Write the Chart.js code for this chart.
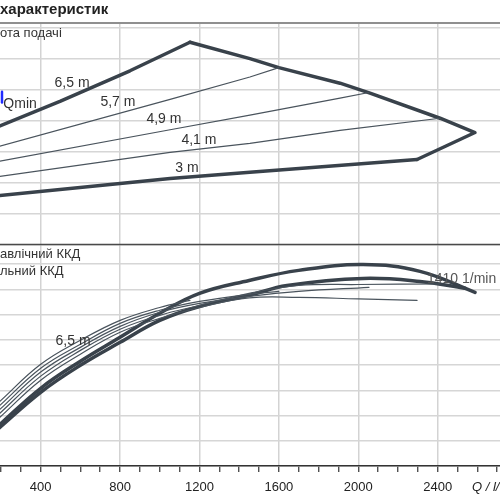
<!DOCTYPE html>
<html>
<head>
<meta charset="utf-8">
<script src="https://cdn.jsdelivr.net/npm/chart.js@4.4.1/dist/chart.umd.min.js"></script>
<style>
  html, body { margin: 0; padding: 0; background: #fff; }
  #wrap { width: 500px; height: 500px; }
</style>
</head>
<body>
<div id="wrap"><canvas id="pumpChart" width="500" height="500"></canvas></div>
<script>
// Q in l/s on x; upper panel head H in m, lower panel efficiency in %
const xTickStep = 100;
const xLabelStep = 400;

// upper panel - head lines
const head65Q = [190, 500, 850, 1152];
const head65H = [3.81, 4.62, 5.60, 6.52];
const head57Q = [190, 1052, 1454, 1600];
const head57H = [3.16, 4.68, 5.40, 5.70];
const head49Q = [190, 1052, 1454, 1908, 2054];
const head49H = [2.68, 3.70, 4.17, 4.72, 4.90];
const head41Q = [190, 1052, 1454, 1908, 2412];
const head41H = [2.19, 2.97, 3.26, 3.68, 4.07];
const head30Q = [190, 1052, 1454, 2296];
const head30H = [1.58, 2.13, 2.33, 2.74];
const limitQ = [1152, 1454, 1600, 1908, 2059, 2412, 2588, 2296];
const limitH = [6.52, 5.99, 5.70, 5.20, 4.88, 4.07, 3.61, 2.74];
const qminQ = [205, 205];
const qminH = [4.58, 4.92];

// lower panel - efficiency curves
const effHydrQ = [190, 400, 600, 800, 1000, 1200, 1450, 1700, 2024, 2311, 2588];
const effHydr = [16.2, 30.8, 41.5, 51.0, 60.5, 68.4, 73.5, 77.5, 79.8, 77.1, 68.8];
const effTotalQ = [190, 400, 600, 800, 1000, 1200, 1450, 1641, 2024, 2311, 2538];
const effTotal = [15.0, 29.2, 39.9, 49.0, 57.7, 63.2, 67.6, 71.5, 74.3, 73.1, 70.4];
const eff65Q = [190, 400, 600, 800, 1000, 1152];
const eff65 = [25.3, 40.3, 49.8, 57.7, 62.8, 65.6];
const eff57Q = [190, 400, 600, 800, 1000, 1200, 1450, 1600];
const eff57 = [23.7, 38.7, 48.2, 56.5, 61.7, 65.2, 68.0, 69.2];
const eff49Q = [190, 400, 600, 800, 1000, 1200, 1450, 1700, 2054];
const eff49 = [22.1, 37.2, 47.0, 55.3, 60.9, 64.4, 67.2, 69.2, 70.8];
const eff41Q = [190, 400, 600, 800, 1000, 1200, 1450, 1700, 2000, 2412];
const eff41 = [20.6, 35.6, 45.8, 54.2, 59.7, 63.6, 68.4, 71.5, 71.9, 72.1];
const eff30Q = [190, 400, 600, 800, 1000, 1200, 1450, 1700, 2000, 2296];
const eff30 = [19.0, 34.0, 44.3, 53.0, 58.5, 62.8, 66.6, 66.8, 66.2, 65.6];

const headLabels = ['6,5 m', '5,7 m', '4,9 m', '4,1 m', '3 m'];

const DARK = '#39424b';
const THIN = '#4a545d';
const FONT = '"Liberation Sans", Arial, sans-serif';

const pts = (qs, vs) => qs.map((q, i) => ({ x: q, y: vs[i] }));

function line(label, qs, vs, axis, width, color, tension) {
    return {
        label: label,
        data: pts(qs, vs),
        yAxisID: axis,
        borderColor: color,
        borderWidth: width,
        tension: tension,
        pointRadius: 0,
        fill: false
    };
}

// texts and frame lines
const decorPlugin = {
    id: 'decor',
    afterDraw(chart) {
        const { ctx, chartArea, scales } = chart;
        const x = scales.x, yH = scales.yH, yE = scales.yE;
        ctx.save();

        // frame lines
        ctx.strokeStyle = '#8f8f8f';
        ctx.lineWidth = 2;
        ctx.beginPath();
        ctx.moveTo(0, chartArea.top);
        ctx.lineTo(500, chartArea.top);
        ctx.stroke();
        ctx.strokeStyle = '#4a4a4a';
        ctx.lineWidth = 1.5;
        ctx.beginPath();
        ctx.moveTo(0, yE.top);
        ctx.lineTo(500, yE.top);
        ctx.stroke();

        ctx.textBaseline = 'middle';
        ctx.fillStyle = '#222';
        ctx.font = 'bold 15px ' + FONT;
        ctx.textAlign = 'left';
        ctx.fillText('характеристик', 0, 10);

        ctx.font = '13px ' + FONT;
        ctx.fillStyle = '#333';
        ctx.fillText('ота подачі', 0, chartArea.top + 10);
        ctx.fillText('авлічний ККД', 0, yE.top + 10);
        ctx.fillText('льний ККД', 0, yE.top + 27);

        // head line labels
        ctx.font = '14px ' + FONT;
        const spots = [[558, 5.19], [789, 4.58], [1021, 4.03], [1197, 3.35], [1137, 2.45]];
        ctx.textAlign = 'center';
        headLabels.forEach((t, i) => {
            ctx.fillText(t, x.getPixelForValue(spots[i][0]), yH.getPixelForValue(spots[i][1]));
        });
        ctx.fillText('6,5 m', x.getPixelForValue(563), yE.getPixelForValue(49.4));

        ctx.textAlign = 'left';
        ctx.fillText('Qmin', x.getPixelForValue(212), yH.getPixelForValue(4.52));
        ctx.fillStyle = '#555';
        ctx.fillText('1410 1/min', x.getPixelForValue(2346), yE.getPixelForValue(73.9));

        // axis unit
        ctx.fillStyle = '#222';
        ctx.font = 'italic 13px ' + FONT;
        ctx.fillText('Q / l/', 472, 487);
        ctx.restore();
    }
};

const ctx = document.getElementById('pumpChart').getContext('2d');

window.pumpChart = new Chart(ctx, {
    type: 'line',
    data: {
        datasets: [
            line('6,5 m', head65Q, head65H, 'yH', 3.5, DARK, 0),
            line('5,7 m', head57Q, head57H, 'yH', 1.2, THIN, 0),
            line('4,9 m', head49Q, head49H, 'yH', 1.2, THIN, 0),
            line('4,1 m', head41Q, head41H, 'yH', 1.2, THIN, 0),
            line('3 m', head30Q, head30H, 'yH', 3.5, DARK, 0),
            line('limit', limitQ, limitH, 'yH', 3.5, DARK, 0),
            line('Qmin', qminQ, qminH, 'yH', 2.5, '#1f2bff', 0),
            line('6,5 m eff', eff65Q, eff65, 'yE', 1.2, THIN, 0.4),
            line('5,7 m eff', eff57Q, eff57, 'yE', 1.2, THIN, 0.4),
            line('4,9 m eff', eff49Q, eff49, 'yE', 1.2, THIN, 0.4),
            line('4,1 m eff', eff41Q, eff41, 'yE', 1.2, THIN, 0.4),
            line('3 m eff', eff30Q, eff30, 'yE', 1.2, THIN, 0.4),
            line('hydraulic', effHydrQ, effHydr, 'yE', 3.5, DARK, 0.4),
            line('total', effTotalQ, effTotal, 'yE', 3.5, DARK, 0.4)
        ]
    },
    options: {
        responsive: false,
        animation: false,
        devicePixelRatio: 1,
        layout: { padding: { top: 23, left: 0, right: 0, bottom: 0 } },
        plugins: {
            legend: { display: false },
            tooltip: { enabled: false }
        },
        elements: {
            line: { borderCapStyle: 'round', borderJoinStyle: 'round' }
        },
        scales: {
            x: {
                type: 'linear',
                min: 195,
                max: 2714,
                border: { display: true, color: '#333', width: 1.5 },
                grid: {
                    color: c => (c.tick && c.tick.value % xLabelStep === 0) ? '#d3d3d3' : 'rgba(0,0,0,0)',
                    lineWidth: 1.5,
                    tickColor: '#333',
                    tickWidth: 1.2,
                    tickLength: 6,
                    drawTicks: true
                },
                ticks: {
                    stepSize: xTickStep,
                    autoSkip: false,
                    includeBounds: false,
                    maxRotation: 0,
                    padding: 8,
                    color: '#222',
                    font: { family: FONT, size: 13 },
                    callback: v => v % xLabelStep === 0 ? String(v) : ''
                },
                afterFit: s => {
                    s.height = 34;
                    s.paddingLeft = 0;
                    s.paddingRight = 0;
                }
            },
            yE: {
                type: 'linear',
                position: 'left',
                stack: 'panels',
                stackWeight: 1,
                min: 0,
                max: 87.75,
                border: { display: false },
                grid: { color: '#d6d6d6', lineWidth: 1.5, drawTicks: false },
                ticks: { display: false, stepSize: 10, includeBounds: false },
                afterFit: s => { s.width = 0; }
            },
            yH: {
                type: 'linear',
                position: 'left',
                stack: 'panels',
                stackWeight: 1,
                min: 0,
                max: 7.14,
                border: { display: false },
                grid: { color: '#d6d6d6', lineWidth: 1.5, drawTicks: false },
                ticks: { display: false, stepSize: 1, includeBounds: false },
                afterFit: s => { s.width = 0; }
            }
        }
    },
    plugins: [decorPlugin]
});
</script>
</body>
</html>
